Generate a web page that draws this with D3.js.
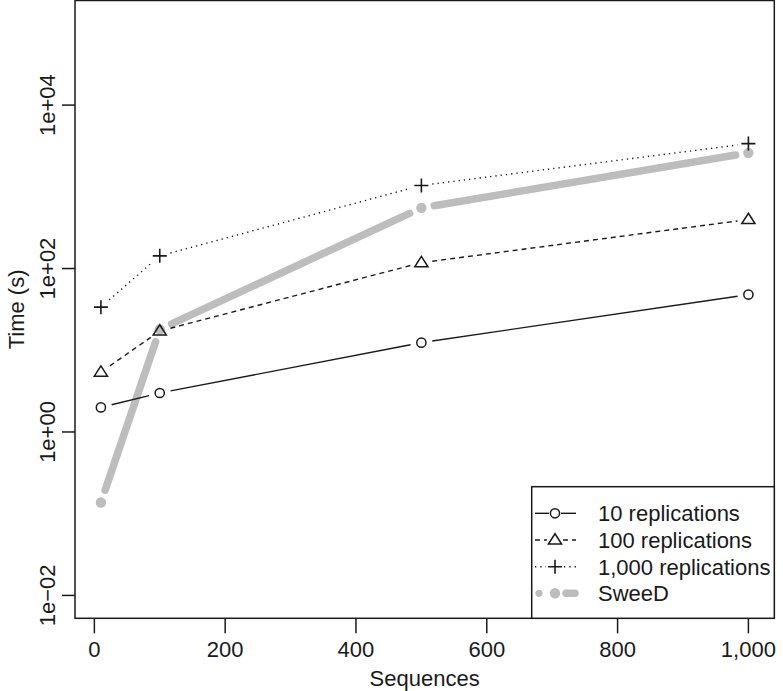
<!DOCTYPE html>
<html>
<head>
<meta charset="utf-8">
<script src="https://cdn.jsdelivr.net/npm/d3@7"></script>
<style>
  body { margin: 0; background: #fff; }
  text { font-family: "Liberation Sans", Arial, sans-serif; fill: #1a1a1a; }
</style>
</head>
<body>
<div id="chart"></div>
<script>
const width = 783;
const height = 691;

// data
const sequences = [10, 100, 500, 1000];
const rep10 = [2.0, 3.0, 12.4, 48];
const rep100 = [5.4, 17.2, 118, 398];
const rep1000 = [33.7, 143, 1040, 3380];
const sweed = [0.137, 18, 553, 2600];

const xTicks = [0, 200, 400, 600, 800, 1000];
const yTicks = [1e-2, 1, 1e2, 1e4];
const yTickLabels = ['1e\u221202', '1e+00', '1e+02', '1e+04'];
const seriesNames = ['10 replications', '100 replications', '1,000 replications', 'SweeD'];

const plot = { left: 75, right: 774.3, top: 0.5, bottom: 618.3 };

const svg = d3.select('#chart').append('svg')
    .attr('width', width)
    .attr('height', height);

// R style 4% padding on both ends
const xScale = d3.scaleLinear()
    .domain([10 - 990 * 0.04, 1000 + 990 * 0.04])
    .range([plot.left, plot.right]);

const yScale = d3.scaleLog()
    .domain([Math.pow(10, -2.28), Math.pow(10, 5.28)])
    .range([plot.bottom, plot.top]);

const gray = '#bdbdbd';
const ink = '#1a1a1a';

const series = [
    { name: seriesNames[0], values: rep10, dash: null, sym: 'circle', lgap: 6 },
    { name: seriesNames[1], values: rep100, dash: '5,4', sym: 'triangle', lgap: 8 },
    { name: seriesNames[2], values: rep1000, dash: '1.3,4', sym: 'plus', lgap: 9 }
];

// segments between points with a gap around each point (R type = "b")
function gapSegments(xs, ys, gap) {
    const segs = [];
    for (let i = 0; i < xs.length - 1; i++) {
        const x0 = xScale(xs[i]), y0 = yScale(ys[i]);
        const x1 = xScale(xs[i + 1]), y1 = yScale(ys[i + 1]);
        const len = Math.hypot(x1 - x0, y1 - y0);
        const ux = (x1 - x0) / len, uy = (y1 - y0) / len;
        segs.push({
            x1: x0 + ux * gap, y1: y0 + uy * gap,
            x2: x1 - ux * gap, y2: y1 - uy * gap
        });
    }
    return segs;
}

function drawSymbol(g, sym, x, y) {
    if (sym === 'circle') {
        g.append('circle')
            .attr('cx', x).attr('cy', y).attr('r', 4.6)
            .attr('fill', 'none').attr('stroke', ink).attr('stroke-width', 1.5);
    } else if (sym === 'triangle') {
        const s = 6.6;
        g.append('path')
            .attr('d', `M${x},${y - s * 0.95}L${x + s},${y + s * 0.62}L${x - s},${y + s * 0.62}Z`)
            .attr('fill', 'none').attr('stroke', ink).attr('stroke-width', 1.5);
    } else {
        const s = 7;
        g.append('path')
            .attr('d', `M${x - s},${y}H${x + s}M${x},${y - s}V${y + s}`)
            .attr('stroke', ink).attr('stroke-width', 1.6);
    }
}

// SweeD: thick gray line with dots
const sweedG = svg.append('g');
sweedG.selectAll('line')
    .data(gapSegments(sequences, sweed, 13))
    .join('line')
    .attr('x1', d => d.x1).attr('y1', d => d.y1)
    .attr('x2', d => d.x2).attr('y2', d => d.y2)
    .attr('stroke', gray)
    .attr('stroke-width', 7.5)
    .attr('stroke-linecap', 'round');
sweedG.selectAll('circle')
    .data(sequences)
    .join('circle')
    .attr('cx', d => xScale(d))
    .attr('cy', (d, i) => yScale(sweed[i]))
    .attr('r', 5.2)
    .attr('fill', gray);

// replication series
series.forEach(s => {
    const g = svg.append('g');
    g.selectAll('line')
        .data(gapSegments(sequences, s.values, 11))
        .join('line')
        .attr('x1', d => d.x1).attr('y1', d => d.y1)
        .attr('x2', d => d.x2).attr('y2', d => d.y2)
        .attr('stroke', ink)
        .attr('stroke-width', 1.4)
        .attr('stroke-dasharray', s.dash);
    sequences.forEach((d, i) => drawSymbol(g, s.sym, xScale(d), yScale(s.values[i])));
});

// plot box
svg.append('rect')
    .attr('x', plot.left).attr('y', plot.top)
    .attr('width', plot.right - plot.left)
    .attr('height', plot.bottom - plot.top)
    .attr('fill', 'none')
    .attr('stroke', ink)
    .attr('stroke-width', 1.5);

// x axis
const xAxis = svg.append('g');
xAxis.selectAll('line')
    .data(xTicks)
    .join('line')
    .attr('x1', d => xScale(d)).attr('x2', d => xScale(d))
    .attr('y1', plot.bottom).attr('y2', plot.bottom + 15)
    .attr('stroke', ink).attr('stroke-width', 1.5);
xAxis.selectAll('text')
    .data(xTicks)
    .join('text')
    .attr('x', d => xScale(d))
    .attr('y', 657)
    .attr('text-anchor', 'middle')
    .attr('font-size', 22)
    .text(d => d3.format(',')(d));
svg.append('text')
    .attr('x', (plot.left + plot.right) / 2)
    .attr('y', 686)
    .attr('text-anchor', 'middle')
    .attr('font-size', 22)
    .text('Sequences');

// y axis
const yAxis = svg.append('g');
yAxis.selectAll('line')
    .data(yTicks)
    .join('line')
    .attr('x1', plot.left - 13).attr('x2', plot.left)
    .attr('y1', d => yScale(d)).attr('y2', d => yScale(d))
    .attr('stroke', ink).attr('stroke-width', 1.5);
yAxis.selectAll('text')
    .data(yTicks)
    .join('text')
    .attr('transform', d => `translate(55,${yScale(d)}) rotate(-90)`)
    .attr('text-anchor', 'middle')
    .attr('font-size', 22)
    .text((d, i) => yTickLabels[i]);
svg.append('text')
    .attr('transform', `translate(24,${(plot.top + plot.bottom) / 2}) rotate(-90)`)
    .attr('text-anchor', 'middle')
    .attr('font-size', 22)
    .text('Time (s)');

// legend
const legend = { left: 531.7, top: 486.7 };
svg.append('rect')
    .attr('x', legend.left).attr('y', legend.top)
    .attr('width', plot.right - legend.left)
    .attr('height', plot.bottom - legend.top)
    .attr('fill', '#fff')
    .attr('stroke', ink)
    .attr('stroke-width', 1.5);

const legendRows = [513.3, 540, 566.7, 593.3];
const symX = 555;
series.forEach((s, i) => {
    const g = svg.append('g');
    const y = legendRows[i];
    [[535, symX - s.lgap], [symX + s.lgap, 576]].forEach(([a, b]) => {
        g.append('line')
            .attr('x1', a).attr('x2', b).attr('y1', y).attr('y2', y)
            .attr('stroke', ink).attr('stroke-width', 1.4)
            .attr('stroke-dasharray', s.dash);
    });
    drawSymbol(g, s.sym, symX, y);
});
// SweeD legend key
const sy = legendRows[3];
svg.append('circle').attr('cx', 539).attr('cy', sy).attr('r', 3.6).attr('fill', gray);
svg.append('circle').attr('cx', symX).attr('cy', sy).attr('r', 5.2).attr('fill', gray);
svg.append('line')
    .attr('x1', 566).attr('x2', 575).attr('y1', sy).attr('y2', sy)
    .attr('stroke', gray).attr('stroke-width', 7.5).attr('stroke-linecap', 'round');

svg.selectAll('.legend-label')
    .data(seriesNames)
    .join('text')
    .attr('class', 'legend-label')
    .attr('x', 598)
    .attr('y', (d, i) => legendRows[i] + 8)
    .attr('font-size', 22)
    .text(d => d);
</script>
</body>
</html>
